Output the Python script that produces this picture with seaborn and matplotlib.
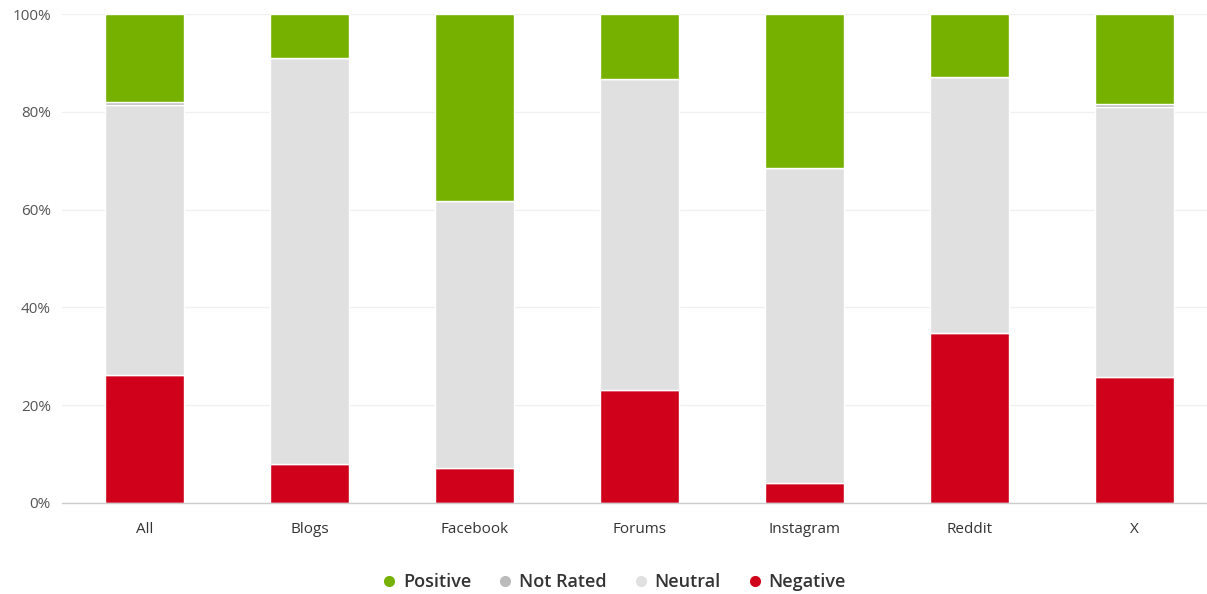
import matplotlib
matplotlib.use("Agg")
import matplotlib.pyplot as plt
import seaborn as sns
import numpy as np
import pandas as pd
from matplotlib.lines import Line2D
from matplotlib.ticker import FuncFormatter

categories = ["All", "Blogs", "Facebook", "Forums", "Instagram", "Reddit", "X"]
negative = [26.2, 8.0, 7.2, 23.1, 4.1, 34.8, 25.8]
neutral = [55.2, 83.0, 54.6, 63.6, 64.4, 52.3, 55.2]
not_rated = [0.7, 0.0, 0.0, 0.0, 0.0, 0.0, 0.5]
positive = [17.9, 9.0, 38.2, 13.3, 31.5, 12.9, 18.5]

series = [("Negative", negative, "#d0021b"),
          ("Neutral", neutral, "#e0e0e0"),
          ("Not Rated", not_rated, "#bbbbbb"),
          ("Positive", positive, "#76b100")]

sns.set_theme(style="white")
plt.rcParams['font.family'] = ['Open Sans', 'DejaVu Sans']

fig = plt.figure(figsize=(12.07, 5.94), dpi=100)
ax = fig.add_axes([62/1207, 1 - 503/594, (1207-62)/1207, (503-14)/594])

bottom = np.zeros(len(categories))
for name, vals, color in series:
    df = pd.DataFrame({"cat": categories, "val": vals})
    sns.barplot(data=df, x="cat", y="val", color=color, bottom=bottom, ax=ax,
                width=0.475, edgecolor="white", linewidth=1.0, saturation=1)
    bottom = bottom + np.array(vals)

ax.set_ylim(0, 100)
ax.set_xlim(-0.5, 6.44)
ax.set_yticks([0, 20, 40, 60, 80, 100])
ax.yaxis.set_major_formatter(FuncFormatter(lambda v, p: f"{int(v)}%"))
ax.set_axisbelow(True)
ax.yaxis.grid(True, color="#f0f0f0", linewidth=1)
ax.xaxis.grid(False)
for s in ["top", "right", "left"]:
    ax.spines[s].set_visible(False)
ax.spines["bottom"].set_color("#cccccc")
ax.spines["bottom"].set_linewidth(1)
ax.set_xlabel("")
ax.set_ylabel("")
ax.tick_params(axis="x", length=0, pad=14, labelsize=11, labelcolor="#333333")
ax.tick_params(axis="y", length=0, pad=8, labelsize=11, labelcolor="#555555")

handles = [Line2D([0], [0], marker="o", linestyle="", markersize=7, color=c, label=n)
           for n, c in [("Positive", "#76b100"), ("Not Rated", "#bbbbbb"),
                        ("Neutral", "#e0e0e0"), ("Negative", "#d0021b")]]
leg = fig.legend(handles=handles, loc="center", bbox_to_anchor=(614/1207, 1 - 582/594),
                 ncol=4, frameon=False, handlelength=0.8, handletextpad=0.35,
                 columnspacing=1.5, prop={"weight": "semibold", "size": 13})
for t in leg.get_texts():
    t.set_color("#333333")

fig.savefig("out.png", dpi=100)
